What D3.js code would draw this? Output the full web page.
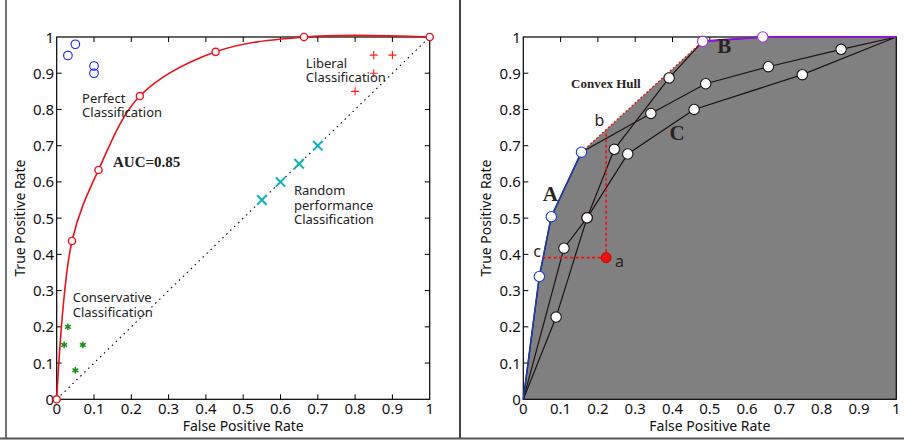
<!DOCTYPE html>
<html>
<head>
<meta charset="utf-8">
<script src="https://cdn.jsdelivr.net/npm/d3@7"></script>
<style>
    body { margin: 0; background: #fff; }
    svg { display: block; font-family: "Noto Sans", "Open Sans", sans-serif; }
    .serif { font-family: "Liberation Serif", "DejaVu Serif", serif; font-weight: bold; }
</style>
</head>
<body>
<svg id="chart" width="904" height="443"></svg>
<script>
// ---- left panel data (fpr, tpr)
var rocCurve = [[0, 0], [0.041, 0.437], [0.112, 0.633], [0.223, 0.837], [0.426, 0.959], [0.663, 1.0], [1, 1]];
var perfectPts = [[0.03, 0.949], [0.05, 0.98], [0.1, 0.92], [0.1, 0.90]];
var liberalPts = [[0.85, 0.95], [0.9, 0.95], [0.85, 0.90], [0.80, 0.85]];
var randomPts = [[0.55, 0.55], [0.6, 0.6], [0.65, 0.65], [0.7, 0.7]];
var conservativePts = [[0.03, 0.20], [0.02, 0.15], [0.07, 0.15], [0.05, 0.08]];

// ---- right panel data
var classifierA = [[0, 0], [0.043, 0.339], [0.075, 0.504], [0.156, 0.682], [0.342, 0.789], [0.489, 0.871], [0.657, 0.918], [0.852, 0.966], [1, 1]];
var classifierB = [[0, 0], [0.088, 0.227], [0.171, 0.501], [0.244, 0.69], [0.391, 0.887], [0.481, 0.988], [0.642, 1.0], [1, 1]];
var classifierC = [[0, 0], [0.109, 0.417], [0.171, 0.501], [0.28, 0.677], [0.458, 0.80], [0.748, 0.896], [1, 1]];
var hullA = [[0, 0], [0.043, 0.339], [0.075, 0.504], [0.156, 0.682]];
var hullMid = [[0.156, 0.682], [0.481, 0.988]];
var hullB = [[0.481, 0.988], [0.642, 1.0], [1, 1]];
var pointA = [0.222, 0.391];

var tickValues = [0, 0.1, 0.2, 0.3, 0.4, 0.5, 0.6, 0.7, 0.8, 0.9, 1];

var svg = d3.select('#chart');

var plotTop = 37, plotBottom = 399.3, plotWidth = 373;
var leftX0 = 56.7, rightX0 = 523.3;

var y = d3.scaleLinear().domain([0, 1]).range([plotBottom, plotTop]);

// panel frames
svg.append('line').attr('x1', 6).attr('x2', 6).attr('y1', 0).attr('y2', 438)
    .style('stroke', '#444').style('stroke-width', 1.5);
svg.append('line').attr('x1', 460).attr('x2', 460).attr('y1', 0).attr('y2', 438)
    .style('stroke', '#444').style('stroke-width', 2);
svg.append('line').attr('x1', 0).attr('x2', 904).attr('y1', 438.5).attr('y2', 438.5)
    .style('stroke', '#555').style('stroke-width', 2);

var fmt = function (d) {
    return d === 0 || d === 1 ? String(d) : d3.format('.1f')(d);
};

var drawAxes = function (g, x) {
    var tickLen = 5;
    var ticks = g.append('g').attr('class', 'ticks');
    tickValues.slice(1, -1).forEach(function (t) {
        ticks.append('line').attr('x1', x(t)).attr('x2', x(t)).attr('y1', plotBottom).attr('y2', plotBottom - tickLen);
        ticks.append('line').attr('x1', x(t)).attr('x2', x(t)).attr('y1', plotTop).attr('y2', plotTop + tickLen);
        ticks.append('line').attr('x1', x(0)).attr('x2', x(0) + tickLen).attr('y1', y(t)).attr('y2', y(t));
        ticks.append('line').attr('x1', x(1)).attr('x2', x(1) - tickLen).attr('y1', y(t)).attr('y2', y(t));
    });
    ticks.selectAll('line').style('stroke', '#000').style('stroke-width', 1);

    var labels = g.append('g').style('font-size', '15px').style('fill', '#111');
    labels.selectAll('.xt').data(tickValues).enter().append('text')
        .attr('x', function (d) { return x(d); })
        .attr('y', plotBottom + 15)
        .attr('text-anchor', 'middle')
        .text(fmt);
    labels.selectAll('.yt').data(tickValues).enter().append('text')
        .attr('x', x(0) - 2.5)
        .attr('y', function (d) { return y(d) + 5.5; })
        .attr('text-anchor', 'end')
        .text(fmt);

    g.append('text')
        .attr('x', (x(0) + x(1)) / 2).attr('y', plotBottom + 32)
        .attr('text-anchor', 'middle').style('font-size', '14px').style('fill', '#111')
        .text('False Positive Rate');
    g.append('text')
        .attr('transform', 'translate(' + (x(0) - 32) + ',' + ((plotTop + plotBottom) / 2) + ') rotate(-90)')
        .attr('text-anchor', 'middle').style('font-size', '14px').style('fill', '#111')
        .text('True Positive Rate');
};

var drawFrame = function (g, x) {
    g.append('rect')
        .attr('x', x(0)).attr('y', plotTop)
        .attr('width', x(1) - x(0)).attr('height', plotBottom - plotTop)
        .style('fill', 'none').style('stroke', '#000').style('stroke-width', 1.2);
};

var multiText = function (g, px, py, lines, lineH, size) {
    var t = g.append('text').attr('x', px).attr('y', py)
        .style('font-size', size + 'px').style('fill', '#222');
    lines.forEach(function (l, i) {
        t.append('tspan').attr('x', px).attr('dy', i ? lineH : 0).text(l);
    });
    return t;
};

// ================= left panel
(function () {
    var x = d3.scaleLinear().domain([0, 1]).range([leftX0, leftX0 + plotWidth]);
    var g = svg.append('g').attr('class', 'left');

    drawAxes(g, x);
    drawFrame(g, x);

    // random guess diagonal
    g.append('line')
        .attr('x1', x(0)).attr('y1', y(0)).attr('x2', x(1)).attr('y2', y(1))
        .style('stroke', '#000').style('stroke-width', 1.1).style('stroke-dasharray', '1.5,4');

    var line = d3.line()
        .x(function (d) { return x(d[0]); })
        .y(function (d) { return y(d[1]); })
        .curve(d3.curveCatmullRom.alpha(0.5));

    g.append('path').datum(rocCurve).attr('d', line)
        .style('fill', 'none').style('stroke', '#e8141c').style('stroke-width', 1.6);
    g.selectAll('.roc-pt').data(rocCurve).enter().append('circle')
        .attr('cx', function (d) { return x(d[0]); })
        .attr('cy', function (d) { return y(d[1]); })
        .attr('r', 3.6)
        .style('fill', '#fff').style('stroke', '#e8141c').style('stroke-width', 1.4);

    g.selectAll('.perfect').data(perfectPts).enter().append('circle')
        .attr('cx', function (d) { return x(d[0]); })
        .attr('cy', function (d) { return y(d[1]); })
        .attr('r', 4.3)
        .style('fill', 'none').style('stroke', '#1a1aff').style('stroke-width', 1.1);

    var sym = function (cls, pts, type, size, color, width) {
        g.selectAll('.' + cls).data(pts).enter().append('path')
            .attr('transform', function (d) { return 'translate(' + x(d[0]) + ',' + y(d[1]) + ')'; })
            .attr('d', d3.symbol().type(type).size(size))
            .style('fill', 'none').style('stroke', color).style('stroke-width', width);
    };
    sym('liberal', liberalPts, d3.symbolPlus, 23, '#ff1a1a', 1.1);
    sym('random', randomPts, d3.symbolTimes, 60, '#12b0b8', 2);
    sym('conservative', conservativePts, d3.symbolAsterisk, 32, '#1a8c1a', 1.5);

    multiText(g, x(0.068), y(0.818), ['Perfect', 'Classification'], 14.4, 13);
    multiText(g, x(0.668), y(0.915), ['Liberal', 'Classification'], 14.4, 13);
    multiText(g, x(0.636), y(0.563), ['Random', 'performance', 'Classification'], 14.4, 13);
    multiText(g, x(0.043), y(0.268), ['Conservative', 'Classification'], 14.4, 13);
    g.append('text').attr('class', 'serif')
        .attr('x', x(0.151)).attr('y', y(0.64))
        .style('font-size', '15px').style('fill', '#222')
        .text('AUC=0.85');
})();

// ================= right panel
(function () {
    var x = d3.scaleLinear().domain([0, 1]).range([rightX0, rightX0 + plotWidth]);
    var g = svg.append('g').attr('class', 'right');

    var px = function (d) { return [x(d[0]), y(d[1])]; };

    drawAxes(g, x);

    // convex hull region
    var allPts = classifierA.concat(classifierB, classifierC, [[1, 0]]);
    var hull = d3.polygonHull(allPts.map(px));
    g.append('path')
        .attr('d', 'M' + hull.join('L') + 'Z')
        .style('fill', '#808080').style('stroke', 'none');

    drawFrame(g, x);

    var line = d3.line()
        .x(function (d) { return x(d[0]); })
        .y(function (d) { return y(d[1]); });

    [classifierA, classifierB, classifierC].forEach(function (c) {
        g.append('path').datum(c).attr('d', line)
            .style('fill', 'none').style('stroke', '#1a1414').style('stroke-width', 1.2);
    });

    g.append('path').datum(hullA).attr('d', line)
        .style('fill', 'none').style('stroke', '#1c3aa8').style('stroke-width', 1.6);
    g.append('path').datum(hullMid).attr('d', line)
        .style('fill', 'none').style('stroke', '#e01818').style('stroke-width', 1.4)
        .style('stroke-dasharray', '2,2');
    g.append('path').datum(hullB).attr('d', line)
        .style('fill', 'none').style('stroke', '#8a18d0').style('stroke-width', 2.2);

    // iso-performance projections of point a onto the hull
    var hullPts = hullA.concat(hullMid.slice(1), hullB.slice(1));
    var hullY = function (fx) {
        for (var i = 1; i < hullPts.length; i++) {
            var p0 = hullPts[i - 1], p1 = hullPts[i];
            if (fx <= p1[0]) return p0[1] + (fx - p0[0]) / (p1[0] - p0[0]) * (p1[1] - p0[1]);
        }
        return 1;
    };
    var hullX = function (ty) {
        for (var i = 1; i < hullPts.length; i++) {
            var p0 = hullPts[i - 1], p1 = hullPts[i];
            if (ty <= p1[1]) return p0[0] + (ty - p0[1]) / (p1[1] - p0[1]) * (p1[0] - p0[0]);
        }
        return 1;
    };
    var bY = hullY(pointA[0]), cX = hullX(pointA[1]);

    g.append('line')
        .attr('x1', x(pointA[0])).attr('y1', y(pointA[1]))
        .attr('x2', x(pointA[0])).attr('y2', y(bY))
        .style('stroke', '#f01010').style('stroke-width', 1.6).style('stroke-dasharray', '3,2.5');
    g.append('line')
        .attr('x1', x(pointA[0])).attr('y1', y(pointA[1]))
        .attr('x2', x(cX)).attr('y2', y(pointA[1]))
        .style('stroke', '#f01010').style('stroke-width', 1.6).style('stroke-dasharray', '3,2.5');

    // classifier points
    var inner = [classifierA.slice(4, -1), classifierB.slice(1, 5), classifierC.slice(1, -1)];
    inner.forEach(function (pts) {
        g.selectAll(null).data(pts).enter().append('circle')
            .attr('cx', function (d) { return x(d[0]); })
            .attr('cy', function (d) { return y(d[1]); })
            .attr('r', 5.2)
            .style('fill', '#fff').style('stroke', '#1a1414').style('stroke-width', 1.1);
    });
    g.selectAll('.hull-a').data(hullA.slice(1)).enter().append('circle')
        .attr('cx', function (d) { return x(d[0]); })
        .attr('cy', function (d) { return y(d[1]); })
        .attr('r', 5.2)
        .style('fill', '#fff').style('stroke', '#1c3ad8').style('stroke-width', 1.1);
    g.selectAll('.hull-b').data(hullB.slice(0, -1)).enter().append('circle')
        .attr('cx', function (d) { return x(d[0]); })
        .attr('cy', function (d) { return y(d[1]); })
        .attr('r', 5.2)
        .style('fill', '#fff').style('stroke', '#9a30e0').style('stroke-width', 1.1);

    g.append('circle')
        .attr('cx', x(pointA[0])).attr('cy', y(pointA[1])).attr('r', 5)
        .style('fill', '#f01010').style('stroke', '#a00').style('stroke-width', 0.8);

    var label = function (txt, fx, fy, size, serif) {
        var t = g.append('text').attr('x', x(fx)).attr('y', y(fy))
            .style('font-size', size + 'px').style('fill', '#2a2222').text(txt);
        if (serif) t.attr('class', 'serif');
    };
    label('a', 0.246, 0.364, 16);
    label('b', 0.191, 0.755, 16);
    label('c', 0.027, 0.392, 16);
    label('A', 0.052, 0.546, 21, true);
    label('B', 0.52, 0.955, 21, true);
    label('C', 0.392, 0.715, 21, true);
    label('Convex Hull', 0.128, 0.858, 13, true);
})();
</script>
</body>
</html>
